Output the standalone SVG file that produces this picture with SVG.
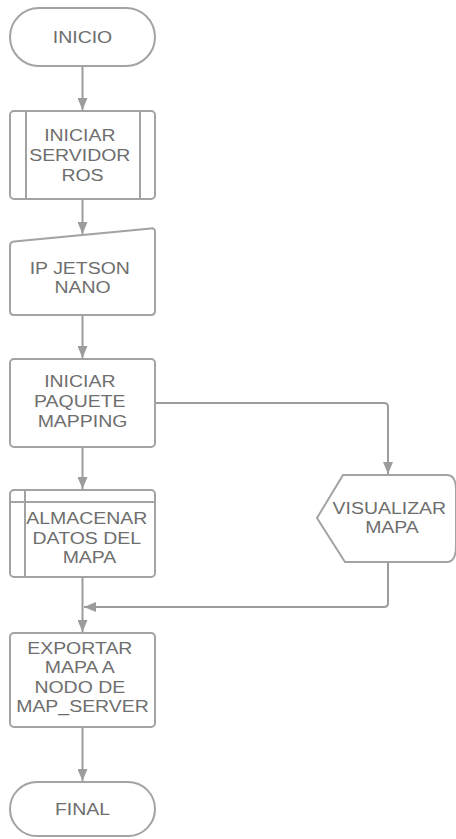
<svg xmlns="http://www.w3.org/2000/svg" width="456" height="839" viewBox="0 0 456 839">
  <defs>
    <marker id="arrow" viewBox="0 0 12 10" refX="12" refY="5" markerWidth="12" markerHeight="10" markerUnits="userSpaceOnUse" orient="auto">
      <path d="M0,0 L12,5 L0,10 Z" fill="#9c9c9c"/>
    </marker>
    <style>
      .shape { fill: #ffffff; stroke: #a3a3a3; stroke-width: 2; }
      .inner { fill: none; stroke: #a3a3a3; stroke-width: 2; }
      .conn { fill: none; stroke: #9c9c9c; stroke-width: 2; }
      .lbl { font-family: "Liberation Sans", Arial, sans-serif; font-size: 16.5px; fill: #6e6e6e; text-anchor: middle; }
    </style>
  </defs>

  <rect width="456" height="839" fill="#ffffff"/>

  <!-- connectors -->
  <g id="connectors">
    <path class="conn" d="M82.5,66 V110" marker-end="url(#arrow)"/>
    <path class="conn" d="M82.5,199 V234" marker-end="url(#arrow)"/>
    <path class="conn" d="M82.5,315 V358" marker-end="url(#arrow)"/>
    <path class="conn" d="M82.5,447 V489" marker-end="url(#arrow)"/>
    <path class="conn" d="M82.5,577 V632" marker-end="url(#arrow)"/>
    <path class="conn" d="M155,403 H384 Q388,403 388,407 V474" marker-end="url(#arrow)"/>
    <path class="conn" d="M388,562 V603 Q388,607 384,607 H84" marker-end="url(#arrow)"/>
    <path class="conn" d="M82.5,727 V781" marker-end="url(#arrow)"/>
  </g>

  <!-- start terminal -->
  <g id="inicio">
    <rect class="shape" x="10" y="8" width="145" height="58" rx="29"/>
    <text class="lbl" transform="matrix(1.18 0 0 1 82.5 0)" x="0" y="43">INICIO</text>
  </g>

  <!-- predefined process -->
  <g id="iniciar-servidor">
    <rect class="shape" x="10" y="111" width="145" height="88" rx="4"/>
    <line class="inner" x1="26" y1="111" x2="26" y2="199"/>
    <line class="inner" x1="140" y1="111" x2="140" y2="199"/>
    <text class="lbl" transform="matrix(1.18 0 0 1 82.5 0)">
      <tspan x="0" y="141">INICIAR</tspan>
      <tspan x="0" y="161">SERVIDOR</tspan>
      <tspan x="0" y="181">ROS</tspan>
    </text>
  </g>

  <!-- manual input -->
  <g id="ip-jetson">
    <path class="shape" d="M14,241.6 L151,228.4 Q155,228 155,232 L155,311 Q155,315 151,315 L14,315 Q10,315 10,311 L10,246 Q10,242 14,241.6 Z"/>
    <text class="lbl" transform="matrix(1.18 0 0 1 82.5 0)">
      <tspan x="0" y="274">IP JETSON</tspan>
      <tspan x="0" y="293.5">NANO</tspan>
    </text>
  </g>

  <!-- process -->
  <g id="iniciar-paquete">
    <rect class="shape" x="10" y="359" width="145" height="88" rx="4"/>
    <text class="lbl" transform="matrix(1.18 0 0 1 82.5 0)">
      <tspan x="0" y="387.5">INICIAR</tspan>
      <tspan x="0" y="407">PAQUETE</tspan>
      <tspan x="0" y="427">MAPPING</tspan>
    </text>
  </g>

  <!-- internal storage -->
  <g id="almacenar">
    <rect class="shape" x="10" y="490" width="145" height="87" rx="4"/>
    <line class="inner" x1="25" y1="490" x2="25" y2="577"/>
    <line class="inner" x1="10" y1="502" x2="155" y2="502"/>
    <text class="lbl" transform="matrix(1.18 0 0 1 89.5 0)">
      <tspan x="0" y="524">ALMACENAR</tspan>
      <tspan x="0" y="544">DATOS DEL</tspan>
      <tspan x="0" y="563.5">MAPA</tspan>
    </text>
  </g>

  <!-- display -->
  <g id="visualizar">
    <path class="shape" d="M343,475 L447,475 Q456,475 456,490 L456,546 Q456,562 447,562 L345,562 L317,518 Z"/>
    <text class="lbl" transform="matrix(1.18 0 0 1 392 0)">
      <tspan x="0" y="514.5">VISUALIZAR</tspan>
      <tspan x="0" y="533">MAPA</tspan>
    </text>
  </g>

  <!-- process -->
  <g id="exportar">
    <rect class="shape" x="10" y="633" width="145" height="94" rx="4"/>
    <text class="lbl" transform="matrix(1.18 0 0 1 82.5 0)">
      <tspan x="0" y="654.5">EXPORTAR</tspan>
      <tspan x="0" y="673.5">MAPA A</tspan>
      <tspan x="0" y="693">NODO DE</tspan>
      <tspan x="0" y="712.5">MAP_SERVER</tspan>
    </text>
  </g>

  <!-- end terminal -->
  <g id="final">
    <rect class="shape" x="10" y="782" width="145" height="54" rx="27"/>
    <text class="lbl" transform="matrix(1.18 0 0 1 82.5 0)" x="0" y="815">FINAL</text>
  </g>
</svg>
